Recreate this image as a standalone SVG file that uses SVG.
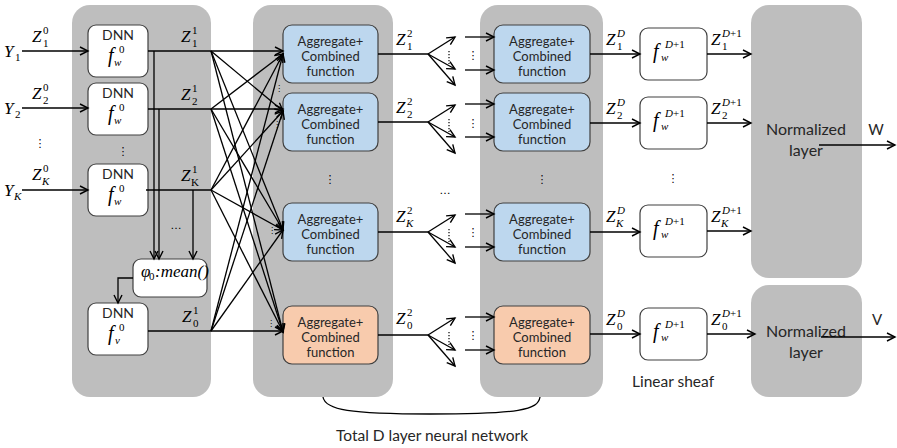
<svg xmlns="http://www.w3.org/2000/svg" width="897" height="448" viewBox="0 0 897 448">
<defs>
<marker id="ah" markerUnits="userSpaceOnUse" markerWidth="10" markerHeight="10" refX="9" refY="5" orient="auto" overflow="visible">
<path d="M1,1 L9,5 L1,9" fill="none" stroke="#000" stroke-width="1.4"/>
</marker>
<style>
.panel{fill:#bebebe;}
.box{fill:#fff;stroke:#404040;stroke-width:1.2;}
.blue{fill:#bdd7ee;stroke:#404040;stroke-width:1.2;}
.orange{fill:#f8cbad;stroke:#404040;stroke-width:1.2;}
.ln{fill:none;stroke:#000;stroke-width:1.3;}
.ar{fill:none;stroke:#000;stroke-width:1.3;marker-end:url(#ah);}
.dot{fill:none;stroke:#000;stroke-width:1.2;stroke-dasharray:1.2 1.8;}
.t{font-family:Lato,"Liberation Sans",sans-serif;fill:#262626;}
.bt{font-family:Lato,"Liberation Sans",sans-serif;font-size:13px;fill:#262626;text-anchor:middle;}
.m{font-family:"Liberation Serif",serif;font-style:italic;font-size:17px;fill:#000;}
.fm{font-family:"Liberation Serif",serif;font-style:italic;font-size:20px;fill:#000;}
.s{font-family:"Liberation Serif",serif;font-style:normal;font-size:11px;fill:#000;}
.si{font-family:"Liberation Serif",serif;font-style:italic;font-size:11px;fill:#000;}
.v{font-family:"DejaVu Sans",sans-serif;font-size:11px;fill:#000;text-anchor:middle;}
.vs{font-family:"DejaVu Sans",sans-serif;font-size:8px;fill:#000;text-anchor:middle;}
</style>
</defs>

<!-- panels -->
<g id="panel1"><rect class="panel" x="72" y="5" width="139" height="392" rx="18"/></g>
<g id="panel2"><rect class="panel" x="253" y="5" width="140" height="392" rx="18"/></g>
<g id="panel3"><rect class="panel" x="480" y="5" width="123" height="392" rx="18"/></g>
<g id="norm1"><rect class="panel" x="751" y="5" width="111" height="273" rx="18"/>
<text class="t" x="806" y="135" font-size="16" text-anchor="middle">Normalized</text>
<text class="t" x="806" y="156" font-size="16" text-anchor="middle">layer</text></g>
<g id="norm2"><rect class="panel" x="751" y="285" width="111" height="112" rx="18"/>
<text class="t" x="806" y="337" font-size="16" text-anchor="middle">Normalized</text>
<text class="t" x="806" y="358" font-size="16" text-anchor="middle">layer</text></g>

<!-- DNN nodes -->
<g id="dnn1"><rect class="box" x="88" y="25" width="60" height="52" rx="8"/>
<text class="t" x="118" y="40" font-size="14" text-anchor="middle">DNN</text>
<text class="fm" x="108" y="62">f</text><text class="s" x="119" y="53">0</text><text class="si" x="114" y="66">w</text></g>
<g id="dnn2"><rect class="box" x="88" y="83" width="60" height="52" rx="8"/>
<text class="t" x="118" y="98" font-size="14" text-anchor="middle">DNN</text>
<text class="fm" x="108" y="120">f</text><text class="s" x="119" y="111">0</text><text class="si" x="114" y="124">w</text></g>
<g id="dnnK"><rect class="box" x="88" y="164" width="60" height="52" rx="8"/>
<text class="t" x="118" y="179" font-size="14" text-anchor="middle">DNN</text>
<text class="fm" x="108" y="201">f</text><text class="s" x="119" y="192">0</text><text class="si" x="114" y="205">w</text></g>
<g id="dnnv"><rect class="box" x="88" y="303" width="60" height="52" rx="8"/>
<text class="t" x="118" y="318" font-size="14" text-anchor="middle">DNN</text>
<text class="fm" x="108" y="340">f</text><text class="s" x="119" y="331">0</text><text class="si" x="115" y="344">v</text></g>
<g id="mean"><rect class="box" x="133" y="259" width="74" height="38" rx="8"/>
<text class="m" x="141" y="277" font-size="15">φ</text><text class="s" x="149" y="280" font-size="10">0</text><text class="m" x="155" y="277" font-size="15">:mean()</text></g>

<!-- aggregate nodes panel 2 -->
<g id="agg21"><rect class="blue" x="283" y="25" width="95" height="58" rx="9"/>
<text class="bt" x="330.5" y="46">Aggregate+</text><text class="bt" x="330.5" y="61">Combined</text><text class="bt" x="330.5" y="76">function</text></g>
<g id="agg22"><rect class="blue" x="283" y="93" width="95" height="58" rx="9"/>
<text class="bt" x="330.5" y="114">Aggregate+</text><text class="bt" x="330.5" y="129">Combined</text><text class="bt" x="330.5" y="144">function</text></g>
<g id="agg2K"><rect class="blue" x="283" y="203" width="95" height="58" rx="9"/>
<text class="bt" x="330.5" y="224">Aggregate+</text><text class="bt" x="330.5" y="239">Combined</text><text class="bt" x="330.5" y="254">function</text></g>
<g id="agg20"><rect class="orange" x="283" y="306" width="95" height="58" rx="9"/>
<text class="bt" x="330.5" y="327">Aggregate+</text><text class="bt" x="330.5" y="342">Combined</text><text class="bt" x="330.5" y="357">function</text></g>

<!-- aggregate nodes panel 3 -->
<g id="agg31"><rect class="blue" x="494" y="25" width="96" height="58" rx="9"/>
<text class="bt" x="542" y="46">Aggregate+</text><text class="bt" x="542" y="61">Combined</text><text class="bt" x="542" y="76">function</text></g>
<g id="agg32"><rect class="blue" x="494" y="93" width="96" height="58" rx="9"/>
<text class="bt" x="542" y="114">Aggregate+</text><text class="bt" x="542" y="129">Combined</text><text class="bt" x="542" y="144">function</text></g>
<g id="agg3K"><rect class="blue" x="494" y="203" width="96" height="58" rx="9"/>
<text class="bt" x="542" y="224">Aggregate+</text><text class="bt" x="542" y="239">Combined</text><text class="bt" x="542" y="254">function</text></g>
<g id="agg30"><rect class="orange" x="494" y="306" width="96" height="58" rx="9"/>
<text class="bt" x="542" y="327">Aggregate+</text><text class="bt" x="542" y="342">Combined</text><text class="bt" x="542" y="357">function</text></g>

<!-- linear sheaf nodes -->
<g id="f1"><rect class="box" x="640" y="28" width="67" height="52" rx="8"/>
<text class="fm" x="653" y="58">f</text><text class="si" x="665" y="48">D<tspan class="s">+1</tspan></text><text class="si" x="661" y="61">w</text></g>
<g id="f2"><rect class="box" x="640" y="97" width="67" height="52" rx="8"/>
<text class="fm" x="653" y="127">f</text><text class="si" x="665" y="117">D<tspan class="s">+1</tspan></text><text class="si" x="661" y="130">w</text></g>
<g id="fK"><rect class="box" x="640" y="205" width="67" height="52" rx="8"/>
<text class="fm" x="653" y="235">f</text><text class="si" x="665" y="225">D<tspan class="s">+1</tspan></text><text class="si" x="661" y="238">w</text></g>
<g id="f0"><rect class="box" x="640" y="308" width="67" height="52" rx="8"/>
<text class="fm" x="653" y="338">f</text><text class="si" x="665" y="328">D<tspan class="s">+1</tspan></text><text class="si" x="661" y="341">w</text></g>

<!-- connectors -->
<g id="connectors">
<line class="ar" x1="22" y1="51" x2="88" y2="51"/>
<line class="ar" x1="22" y1="108" x2="88" y2="108"/>
<line class="ar" x1="22" y1="190" x2="88" y2="190"/>
<line class="ln" x1="148" y1="51" x2="211" y2="51"/>
<line class="ln" x1="148" y1="109" x2="211" y2="109"/>
<line class="ln" x1="146" y1="190" x2="211" y2="190"/>
<line class="ln" x1="148" y1="331" x2="211" y2="331"/>
<path class="ar" d="M154,51 V259"/>
<path class="ar" d="M159,109 V259"/>
<path class="ar" d="M193,190 V259"/>
<path class="ar" d="M133,278 H118 V303"/>
<line class="ar" x1="211" y1="51" x2="283" y2="51"/>
<line class="ar" x1="211" y1="51" x2="283" y2="111"/>
<line class="ar" x1="211" y1="51" x2="283" y2="230"/>
<line class="ar" x1="211" y1="51" x2="283" y2="332"/>
<line class="ar" x1="211" y1="109" x2="283" y2="54"/>
<line class="ar" x1="211" y1="109" x2="283" y2="109"/>
<line class="ar" x1="211" y1="109" x2="283" y2="230"/>
<line class="ar" x1="211" y1="109" x2="283" y2="332"/>
<line class="ar" x1="211" y1="190" x2="283" y2="54"/>
<line class="ar" x1="211" y1="190" x2="283" y2="111"/>
<line class="ar" x1="211" y1="190" x2="283" y2="230"/>
<line class="ar" x1="211" y1="190" x2="283" y2="332"/>
<line class="ar" x1="211" y1="331" x2="283" y2="54"/>
<line class="ar" x1="211" y1="331" x2="283" y2="111"/>
<line class="ar" x1="211" y1="331" x2="283" y2="230"/>
<line class="ar" x1="211" y1="331" x2="283" y2="331"/>
<line class="ln" x1="378" y1="54" x2="428" y2="54"/>
<line class="ar" x1="428" y1="54" x2="455" y2="37"/>
<line class="ar" x1="428" y1="54" x2="455" y2="69"/>
<line class="ar" x1="428" y1="54" x2="455" y2="85"/>
<line class="dot" x1="449" y1="51" x2="449" y2="64"/>
<line class="ln" x1="378" y1="122" x2="428" y2="122"/>
<line class="ar" x1="428" y1="122" x2="455" y2="105"/>
<line class="ar" x1="428" y1="122" x2="455" y2="137"/>
<line class="ar" x1="428" y1="122" x2="455" y2="153"/>
<line class="dot" x1="449" y1="119" x2="449" y2="132"/>
<line class="ln" x1="378" y1="232" x2="428" y2="232"/>
<line class="ar" x1="428" y1="232" x2="455" y2="215"/>
<line class="ar" x1="428" y1="232" x2="455" y2="247"/>
<line class="ar" x1="428" y1="232" x2="455" y2="263"/>
<line class="dot" x1="449" y1="229" x2="449" y2="242"/>
<line class="ln" x1="378" y1="335" x2="428" y2="335"/>
<line class="ar" x1="428" y1="335" x2="455" y2="318"/>
<line class="ar" x1="428" y1="335" x2="455" y2="350"/>
<line class="ar" x1="428" y1="335" x2="455" y2="366"/>
<line class="dot" x1="449" y1="332" x2="449" y2="345"/>
<line class="ar" x1="465" y1="37" x2="494" y2="37"/>
<line class="ar" x1="465" y1="70" x2="494" y2="70"/>
<line class="ar" x1="465" y1="104" x2="494" y2="104"/>
<line class="ar" x1="465" y1="137" x2="494" y2="137"/>
<line class="ar" x1="465" y1="214" x2="494" y2="214"/>
<line class="ar" x1="465" y1="247" x2="494" y2="247"/>
<line class="ar" x1="465" y1="317" x2="494" y2="317"/>
<line class="ar" x1="465" y1="350" x2="494" y2="350"/>
<line class="ar" x1="590" y1="54" x2="640" y2="54"/>
<line class="ar" x1="590" y1="123" x2="640" y2="123"/>
<line class="ar" x1="590" y1="232" x2="640" y2="232"/>
<line class="ar" x1="590" y1="334" x2="640" y2="334"/>
<line class="ar" x1="707" y1="54" x2="751" y2="54"/>
<line class="ar" x1="707" y1="123" x2="751" y2="123"/>
<line class="ar" x1="707" y1="231" x2="751" y2="231"/>
<line class="ar" x1="707" y1="334" x2="755" y2="334"/>
<line class="ar" x1="819" y1="145" x2="895" y2="145"/>
<line class="ar" x1="821" y1="337" x2="895" y2="337"/>
<path class="ln" d="M323,397 C325,410 350,414 430,414 C520,414 538,410 540,397"/>
</g>

<!-- labels -->
<g id="labels">
<text class="m" x="4" y="57">Y</text><text class="s" x="15" y="61">1</text>
<text class="m" x="4" y="114">Y</text><text class="s" x="15" y="118">2</text>
<text class="m" x="4" y="196">Y</text><text class="si" x="14" y="200">K</text>
<text class="m" x="32" y="42">Z</text><text class="s" x="43" y="34">0</text><text class="s" x="43" y="47">1</text>
<text class="m" x="32" y="99">Z</text><text class="s" x="43" y="91">0</text><text class="s" x="43" y="104">2</text>
<text class="m" x="32" y="180">Z</text><text class="s" x="43" y="172">0</text><text class="si" x="42" y="185">K</text>
<text class="m" x="181" y="42">Z</text><text class="s" x="192" y="34">1</text><text class="s" x="192" y="47">1</text>
<text class="m" x="181" y="100">Z</text><text class="s" x="192" y="92">1</text><text class="s" x="192" y="105">2</text>
<text class="m" x="181" y="181">Z</text><text class="s" x="192" y="173">1</text><text class="s" x="191" y="186">K</text>
<text class="m" x="182" y="322">Z</text><text class="s" x="193" y="314">1</text><text class="s" x="193" y="327">0</text>
<text class="m" x="396" y="45">Z</text><text class="s" x="407" y="37">2</text><text class="s" x="407" y="50">1</text>
<text class="m" x="396" y="113">Z</text><text class="s" x="407" y="105">2</text><text class="s" x="407" y="118">2</text>
<text class="m" x="396" y="222">Z</text><text class="s" x="407" y="214">2</text><text class="si" x="406" y="227">K</text>
<text class="m" x="396" y="324">Z</text><text class="s" x="407" y="316">2</text><text class="s" x="407" y="329">0</text>
<text class="m" x="606" y="45">Z</text><text class="si" x="617" y="37">D</text><text class="s" x="617" y="50">1</text>
<text class="m" x="606" y="114">Z</text><text class="si" x="617" y="106">D</text><text class="s" x="617" y="119">2</text>
<text class="m" x="606" y="222">Z</text><text class="si" x="617" y="214">D</text><text class="si" x="616" y="227">K</text>
<text class="m" x="606" y="325">Z</text><text class="si" x="617" y="317">D</text><text class="s" x="617" y="330">0</text>
<text class="m" x="711" y="45">Z</text><text class="si" x="722" y="37">D<tspan class="s">+1</tspan></text><text class="s" x="722" y="50">1</text>
<text class="m" x="711" y="114">Z</text><text class="si" x="722" y="106">D<tspan class="s">+1</tspan></text><text class="s" x="722" y="119">2</text>
<text class="m" x="711" y="222">Z</text><text class="si" x="722" y="214">D<tspan class="s">+1</tspan></text><text class="si" x="721" y="227">K</text>
<text class="m" x="711" y="325">Z</text><text class="si" x="722" y="317">D<tspan class="s">+1</tspan></text><text class="s" x="722" y="330">0</text>
<text class="t" x="876" y="135" font-size="15" text-anchor="middle">W</text>
<text class="t" x="877" y="325" font-size="15" text-anchor="middle">V</text>
<text class="t" x="632" y="387" font-size="15.5">Linear sheaf</text>
<text class="t" x="432" y="441" font-size="15.5" text-anchor="middle">Total D layer neural network</text>
<text class="v" x="40" y="147">⋮</text>
<text class="v" x="123" y="155">⋮</text>
<text class="v" x="176" y="229">…</text>
<text class="v" x="330" y="183">⋮</text>
<text class="v" x="445" y="194">…</text>
<text class="v" x="542" y="183">⋮</text>
<text class="v" x="673" y="182">⋮</text>
<text class="vs" x="279" y="91">⋮</text>
<text class="vs" x="277" y="127">⋮</text>
<text class="vs" x="272" y="233">⋮</text>
<text class="vs" x="271" y="326">⋮</text>
<text class="v" x="473" y="59">⋮</text>
<text class="v" x="473" y="127">⋮</text>
<text class="v" x="473" y="236">⋮</text>
<text class="v" x="473" y="339">⋮</text>
</g>
</svg>
